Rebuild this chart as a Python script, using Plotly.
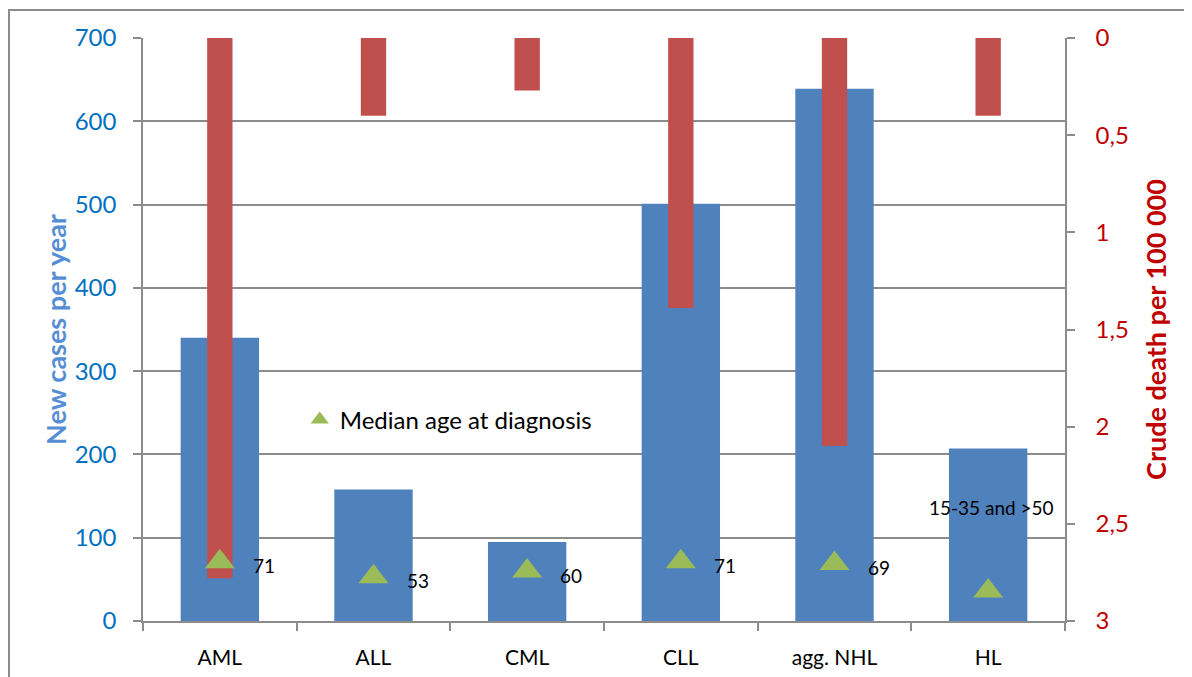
import plotly.graph_objects as go

categories = ["AML", "ALL", "CML", "CLL", "agg. NHL", "HL"]
new_cases = [340, 158, 95, 501, 639, 207]
crude_death = [2.78, 0.40, 0.27, 1.39, 2.10, 0.40]
median_age = [71, 53, 60, 71, 69, 36]
age_labels = ["71", "53", "60", "71", "69", "15-35 and >50"]

FONT = "Lato"
GRID = "#8c8c8c"

fig = go.Figure()
fig.add_trace(go.Bar(
    x=categories, y=new_cases, yaxis="y", width=0.51,
    marker=dict(color="#4F81BD", line=dict(width=0)),
    showlegend=False, name="New cases per year"))
fig.add_trace(go.Bar(
    x=categories, y=crude_death, yaxis="y2", width=0.165,
    marker=dict(color="#C0504D", line=dict(width=0)),
    showlegend=False, name="Crude death per 100 000"))
fig.add_trace(go.Scatter(
    x=categories, y=median_age, yaxis="y3", mode="markers",
    marker=dict(symbol="triangle-up", size=26, color="#9BBB59"),
    name="Median age at diagnosis", showlegend=True))

annotations = []
for cat, age, lab in zip(categories, median_age, age_labels):
    if lab.isdigit():
        annotations.append(dict(x=cat, y=age, xref="x", yref="y", text=lab,
                                showarrow=False, xanchor="left", yanchor="middle",
                                xshift=31, yshift=-4,
                                font=dict(family=FONT, size=19, color="black")))
    else:
        annotations.append(dict(x=cat, y=age, xref="x", yref="y", text=lab,
                                showarrow=False, xanchor="center", yanchor="middle",
                                xshift=3, yshift=84,
                                font=dict(family=FONT, size=19, color="black")))

# page body has an 8px margin, so the figure is offset by (8, 8)
fig.update_layout(
    width=1192, height=677,
    margin=dict(l=135, r=135, t=30, b=64, autoexpand=False),
    paper_bgcolor="white", plot_bgcolor="white",
    barmode="overlay",
    separators=", ",
    font=dict(family=FONT, color="black"),
    xaxis=dict(
        automargin=False,
        showline=True, linecolor=GRID, linewidth=1.5,
        ticks="outside", tickson="boundaries", ticklen=8, tickcolor=GRID, tickwidth=1.5,
        tickfont=dict(family=FONT, size=21, color="black"),
        ticklabelstandoff=17,
        showgrid=False,
    ),
    yaxis=dict(
        automargin=False,
        range=[0, 700], dtick=100,
        showline=True, linecolor=GRID, linewidth=1.5,
        ticks="outside", ticklen=8, tickcolor=GRID, tickwidth=1.5,
        showgrid=True, gridcolor=GRID, gridwidth=1.5,
        zeroline=False,
        tickfont=dict(family=FONT, size=24, color="#0070C0"),
        ticklabelstandoff=12,
        title=dict(text="<b>New cases per year</b>",
                   font=dict(family=FONT, size=27, color="#558ED5"), standoff=0),
    ),
    yaxis2=dict(
        automargin=False,
        range=[3, 0], dtick=0.5, overlaying="y", side="right",
        showline=True, linecolor=GRID, linewidth=1.5,
        ticks="outside", ticklen=8, tickcolor=GRID, tickwidth=1.5,
        showgrid=False, zeroline=False,
        tickfont=dict(family=FONT, size=24, color="#C00000"),
        ticklabelstandoff=16,
        title=dict(text="<b>Crude death per 100 000</b>",
                   font=dict(family=FONT, size=27, color="#C00000"), standoff=19),
    ),
    yaxis3=dict(
        range=[0, 700], overlaying="y", visible=False, showgrid=False,
    ),
    legend=dict(x=0.17, y=0.345, xanchor="left", yanchor="middle",
                bgcolor="rgba(0,0,0,0)", font=dict(family=FONT, size=24, color="black")),
    annotations=annotations,
    shapes=[dict(type="rect", xref="paper", yref="paper",
                 x0=(1 - 135) / 922, x1=1.3, y0=-0.3, y1=(613 - 2) / 583,
                 line=dict(color=GRID, width=2), fillcolor="rgba(0,0,0,0)", layer="below")],
)

fig.write_html("out.html")
